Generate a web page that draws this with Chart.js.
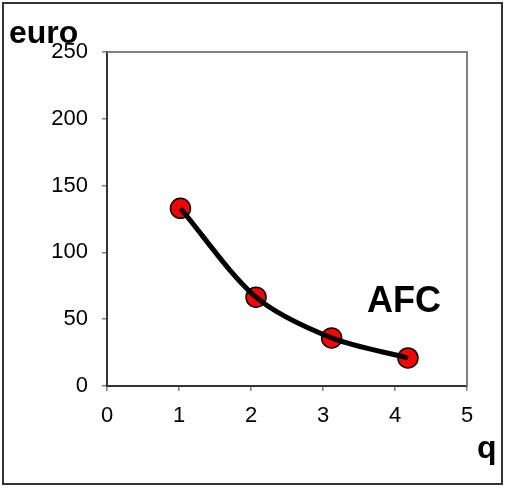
<!DOCTYPE html>
<html>
<head>
<meta charset="utf-8">
<script src="https://cdn.jsdelivr.net/npm/chart.js@4/dist/chart.umd.min.js"></script>
<style>
  body { margin: 0; background: #fff; }
  canvas { display: block; }
</style>
</head>
<body>
<canvas id="afcChart" width="506" height="488"></canvas>
<script>
// values
const quantities = [1.02, 2.07, 3.12, 4.18];
const afcValues = [133, 66.5, 36, 21];
const yTicks = [0, 50, 100, 150, 200, 250];
const xTicks = [0, 1, 2, 3, 4, 5];
const yTitle = 'euro';
const xTitle = 'q';
const curveLabel = 'AFC';

const points = quantities.map((q, i) => ({ x: q, y: afcValues[i] }));
const font = '"Liberation Sans", Arial, sans-serif';

const decorations = {
    id: 'decorations',
    beforeDatasetsDraw(chart) {
        const { ctx, chartArea: a } = chart;
        ctx.save();
        ctx.strokeStyle = '#808080';
        ctx.lineWidth = 2;
        ctx.beginPath();
        ctx.moveTo(a.left, a.top);
        ctx.lineTo(a.right, a.top);
        ctx.lineTo(a.right, a.bottom);
        ctx.stroke();
        ctx.restore();
    },
    afterDraw(chart) {
        const { ctx, chartArea: a } = chart;
        ctx.save();
        // outer frame
        ctx.strokeStyle = '#333';
        ctx.lineWidth = 2;
        ctx.strokeRect(3, 3, 499, 481);

        ctx.fillStyle = '#000';
        ctx.textBaseline = 'alphabetic';
        ctx.textAlign = 'left';
        ctx.font = 'bold 32px ' + font;
        ctx.fillText(yTitle, 9, 43);
        ctx.fillText(xTitle, 477, 458);
        ctx.font = 'bold 36px ' + font;
        ctx.fillText(curveLabel, a.left + 260, a.bottom - 74);
        ctx.restore();
    }
};

new Chart(document.getElementById('afcChart'), {
    type: 'scatter',
    data: {
        datasets: [
            {
                label: curveLabel,
                data: points,
                showLine: true,
                borderColor: '#000',
                borderWidth: 5,
                pointRadius: 0,
                tension: 0.3,
                order: 0
            },
            {
                label: 'points',
                data: points,
                showLine: false,
                pointRadius: 10,
                backgroundColor: '#ff0000',
                borderColor: '#000',
                borderWidth: 1.5,
                order: 1
            }
        ]
    },
    options: {
        responsive: false,
        animation: false,
        layout: { padding: { top: 52, right: 39, bottom: 0, left: 0 } },
        plugins: {
            legend: { display: false },
            tooltip: { enabled: false }
        },
        scales: {
            x: {
                type: 'linear',
                min: xTicks[0],
                max: xTicks[xTicks.length - 1],
                afterFit(scale) { scale.height = 102; },
                afterBuildTicks(scale) { scale.ticks = xTicks.map(v => ({ value: v })); },
                grid: { drawOnChartArea: false, drawTicks: true, tickLength: 5, color: '#808080', lineWidth: 1.5 },
                border: { color: '#333', width: 2 },
                ticks: { color: '#000', padding: 12, font: { family: font, size: 22 } }
            },
            y: {
                type: 'linear',
                min: yTicks[0],
                max: yTicks[yTicks.length - 1],
                afterFit(scale) { scale.width = 107; },
                afterBuildTicks(scale) { scale.ticks = yTicks.map(v => ({ value: v })); },
                grid: { drawOnChartArea: false, drawTicks: true, tickLength: 5, color: '#808080', lineWidth: 1.5 },
                border: { color: '#333', width: 2 },
                ticks: { color: '#000', padding: 14, font: { family: font, size: 22 } }
            }
        }
    },
    plugins: [decorations]
});
</script>
</body>
</html>
